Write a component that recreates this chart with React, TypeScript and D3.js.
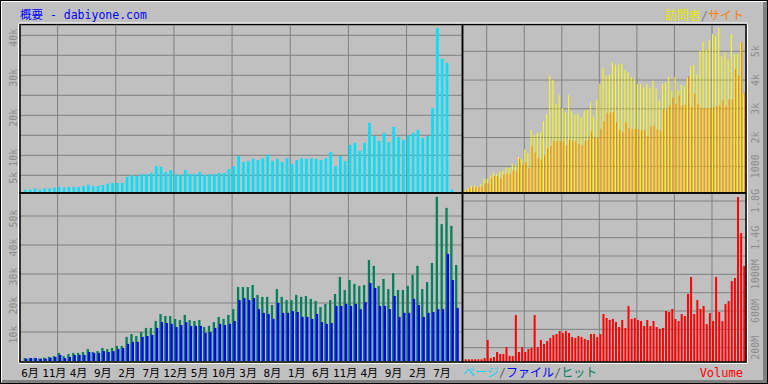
import React from "react";
import * as d3 from "d3";

// ---- data (month index 0 = 5月 ... 89 = 10月) ----
const xTickLabels = ["6月","11月","4月","9月","2月","7月","12月","5月","10月","3月","8月","1月","6月","11月","4月","9月","2月","7月"];
const xTickIndex = [1,6,11,16,21,26,31,36,41,46,51,56,61,66,71,76,81,86];

const pages = [1400,1400,1700,1400,1700,1700,1900,2100,1900,2100,
2100,2100,2300,2600,2300,2300,2600,2900,3100,3100,
3100,4600,5000,4800,5300,5300,5600,7300,7100,5800,
6300,5300,5100,6300,5300,5300,5800,5100,5300,5300,
5600,5600,6600,7300,9800,8300,8600,9100,8800,9300,
10100,8600,9100,8300,9300,7800,8800,9300,9100,9300,
9100,8800,9300,10800,7300,9800,8600,12600,13100,11100,
13100,18100,14800,13600,15600,13300,17100,14600,13800,15000,
15600,16300,14300,14800,21800,41800,34100,33100,1400,0];

const hits = [1000,1000,1000,800,1150,1400,1700,2800,1700,2400,
2800,2800,3100,4100,3100,3400,4500,4100,4500,5200,
5200,8300,9300,8600,10000,11400,11400,13800,16200,15500,
15500,14500,14100,15900,14100,13800,14100,11700,12100,13400,
15200,14500,15900,17900,25500,25500,25500,26200,22800,22100,
22100,19300,24800,22100,21000,21000,22800,22100,22400,21400,
20700,18600,19700,21000,23100,29000,24500,27900,26600,25900,
26200,34800,32800,25900,28300,24800,30300,24500,24500,25900,
29700,32800,24800,27200,33800,56600,47200,52800,46600,33100];

const files = [800,1000,1000,800,800,1150,1400,2100,1000,1400,
2100,2100,2100,3100,2800,2800,3400,3100,3400,4100,
4500,5900,6600,6600,8300,8600,9000,11400,13400,13100,
12800,11700,12400,13400,12100,12100,12100,9700,10000,11400,
12800,12400,12800,13800,21000,21700,21000,21700,17900,16600,
16200,14500,20000,16600,16600,17200,16900,15200,15200,14500,
16200,13400,12800,13100,19000,19000,19700,19000,19700,17900,
20300,26900,25200,19000,19000,17900,22400,15200,16600,16600,
21400,19300,15200,16600,16900,17900,17900,36900,27900,18300];

const visitors = [186,243,336,313,290,383,568,568,661,777,
742,800,858,962,939,1078,1032,1322,1241,1577,
1461,2261,2075,2157,2191,2574,2817,4151,4000,3165,
3478,3026,2864,3478,2910,2794,2829,2701,2933,2968,
3235,2725,3304,3872,4417,4162,4185,4626,4533,4533,
4556,4348,4278,4104,4046,3861,3872,3745,3861,3733,
3977,3699,3281,3872,3930,4104,3617,4104,3652,3838,
3791,4069,4487,4533,4209,5020,5345,5067,5380,5600,
5530,5809,4823,4951,4719,5600,4904,4904,5300,3500];

const sites = [162,220,278,267,267,301,417,406,568,661,
661,591,707,742,730,870,846,1264,1055,1148,
939,1704,1472,1287,1241,1380,1635,1704,1890,1867,
1890,1843,1727,1913,1890,1867,1785,1727,1890,1936,
2214,1983,2006,2307,2562,2864,2864,2887,2539,2272,
2191,2539,2330,2284,2307,2284,2249,2249,2041,2388,
2423,2284,2238,2980,2968,3119,3397,3165,3467,3119,
3142,4139,3061,3525,3154,3026,3026,3026,3003,3061,
3096,3119,3293,3096,3328,3328,4394,4162,5322,3583];

// volume in MB
const volume = [73,73,73,73,73,73,87,284,87,98,
153,131,131,207,109,109,556,153,207,153,
185,196,556,207,284,240,273,305,338,349,
382,360,382,360,316,305,327,316,295,284,
349,349,316,349,567,524,502,513,480,425,
502,415,655,513,524,502,491,436,502,436,
491,425,404,415,600,589,622,513,491,567,
545,785,971,567,720,622,655,458,578,491,
971,589,491,676,709,927,960,1843,1451,1091];

const pagesTicks = [5000,10000,20000,30000,40000];
const pagesTickLabels = ["5k","10k","20k","30k","40k"];
const hitsTicks = [10000,20000,30000,40000,50000];
const hitsTickLabels = ["10k","20k","30k","40k","50k"];
const visTicks = [1000,2000,3000,4000,5000];
const visTickLabels = ["1000","2k","3k","4k","5k"];
const volTicks = [200,600,1000,1400,1800];
const volTickLabels = ["200M","600M","1000M","1.4G","1.8G"];

const W = 768;
const H = 384;

const C = {
  bg: "#c0c0c0",
  grid: "#808080",
  pages: "#00e0ff",
  files: "#0000ff",
  hits: "#00805a",
  visitors: "#ffff00",
  sites: "#ff8000",
  volume: "#ff0000",
  tick: "#8c8c8c",
};

const FONT = "'DejaVu Sans Mono', 'Noto Sans CJK JP', monospace";

export default function App() {
  const N = volume.length;
  const idx = d3.range(N);
  const PL = 20, PM = 462.5, PR = 746, PT = 24.5, PMY = 193, PB = 362;

  const xL = d3.scaleLinear().domain([0, N]).range([23.67, 23.67 + N * 4.847]);
  const xR = d3.scaleLinear().domain([0, N]).range([464.8, 464.8 + N * 3.129]);

  const yPages = d3.scaleLinear().domain([0, 40000]).range([195.3, 35.3]);
  const yHits = d3.scaleLinear().domain([0, 50000]).range([361, 216]);
  const yVis = d3.scaleLinear().domain([0, 5000]).range([195.05, 51.3]);
  const yVol = d3.scaleLinear().domain([0, 1800]).range([366, 201]);

  const vGridIdx = d3.range(7, N, 12);

  const panels = [
    { id: "tl", x: PL, y: PT, w: PM - PL, h: PMY - PT },
    { id: "tr", x: PM, y: PT, w: PR - PM, h: PMY - PT },
    { id: "bl", x: PL, y: PMY, w: PM - PL, h: PB - PMY },
    { id: "br", x: PM, y: PMY, w: PR - PM, h: PB - PMY },
  ];

  const bar = (x: number, w: number, y: any, v: number, fill: string, key: string) => (
    <rect key={key} x={x} width={w} y={y(v)} height={Math.max(0, y(0) - y(v))} fill={fill} />
  );

  const hGrid = (ticks: number[], y: any, x0: number, x1: number, k: string) =>
    ticks.map((t) => <line key={k + t} x1={x0} x2={x1} y1={y(t)} y2={y(t)} stroke={C.grid} strokeWidth={1} />);

  const vGrid = (x: any, y0: number, y1: number, k: string) =>
    vGridIdx.map((i) => <line key={k + i} x1={x(i)} x2={x(i)} y1={y0} y2={y1} stroke={C.grid} strokeWidth={1} />);

  const yLabel = (x: number, y: number, t: string, key: string) => (
    <text key={key} transform={`translate(${x},${y}) rotate(-90)`} textAnchor="middle" dominantBaseline="central"
      fontSize={10} fill={C.tick} fontFamily={FONT}>{t}</text>
  );

  return (
    <svg width={W} height={H} style={{ position: "absolute", left: 0, top: 0 }} xmlns="http://www.w3.org/2000/svg">
      <defs>
        {panels.map((p) => (
          <clipPath id={"clip-" + p.id} key={p.id}>
            <rect x={p.x} y={p.y} width={p.w} height={p.h} />
          </clipPath>
        ))}
      </defs>
      <rect x={0} y={0} width={W} height={H} fill={C.bg} />
      <line x1={0} x2={W} y1={0.5} y2={0.5} stroke="#000" />
      <line x1={0.5} x2={0.5} y1={0} y2={H} stroke="#000" />
      <line x1={1} x2={W - 2} y1={1.5} y2={1.5} stroke="#fff" />
      <line x1={1.5} x2={1.5} y1={1} y2={H - 2} stroke="#fff" />
      <rect x={W - 5} y={2} width={4} height={H - 3} fill="#808080" />
      <rect x={2} y={H - 4} width={W - 3} height={3} fill="#808080" />
      <line x1={0} x2={W} y1={H - 0.5} y2={H - 0.5} stroke="#000" />
      <line x1={W - 0.5} x2={W - 0.5} y1={0} y2={H} stroke="#000" />

      <text x={20} y={19} fontSize={11.5} fill="#0000ff" fontFamily={FONT}>概要 - dabiyone.com</text>
      <text x={744} y={20} textAnchor="end" fontSize={12} fontFamily={FONT}>
        <tspan fill="#e8e800">訪問者</tspan><tspan fill="#808080">/</tspan><tspan fill="#ff8000">サイト</tspan>
      </text>

      <g>
        {hGrid(d3.range(5000, 40001, 5000), yPages, PL, PM, "gtl")}
        {vGrid(xL, PT, PMY, "vtl")}
        {hGrid(d3.range(10000, 50001, 10000), yHits, PL, PM, "gbl")}
        {vGrid(xL, PMY, PB, "vbl")}
        {hGrid(d3.range(1000, 5001, 1000), yVis, PM, PR, "gtr")}
        {vGrid(xR, PT, PMY, "vtr")}
        {hGrid(d3.range(200, 1801, 200), yVol, PM, PR, "gbr")}
        {vGrid(xR, PMY, PB, "vbr")}
      </g>

      <g clipPath="url(#clip-tl)">
        {idx.map((i) => bar(xL(i) + 0.3, 2.7, yPages, pages[i], C.pages, "p" + i))}
      </g>
      <g clipPath="url(#clip-bl)">
        {idx.map((i) => bar(xL(i), 2.3, yHits, hits[i], C.hits, "h" + i))}
        {idx.map((i) => bar(xL(i) + 1.4, 2.3, yHits, files[i], C.files, "f" + i))}
      </g>
      <g clipPath="url(#clip-tr)">
        {idx.map((i) => bar(xR(i), 1, yVis, visitors[i], C.visitors, "v" + i))}
        {idx.map((i) => bar(xR(i) + 1, 1, yVis, sites[i], C.sites, "s" + i))}
      </g>
      <g clipPath="url(#clip-br)">
        {idx.map((i) => bar(xR(i), 2, yVol, volume[i], C.volume, "vol" + i))}
      </g>

      {panels.map((p) => (
        <rect key={"f" + p.id} x={p.x} y={p.y} width={p.w} height={p.h} fill="none" stroke="#000" strokeWidth={1.5} />
      ))}
      <line x1={PL - 1} x2={PR + 1} y1={PT - 1.5} y2={PT - 1.5} stroke="#fff" />
      <line x1={PR + 1.5} x2={PR + 1.5} y1={PT - 1} y2={PB + 1} stroke="#fff" />
      <line x1={PL - 1} x2={PR + 1} y1={PB + 1.5} y2={PB + 1.5} stroke="#fff" />
      <line x1={PL - 1.5} x2={PL - 1.5} y1={PT - 1} y2={PB + 1} stroke="#fff" />

      {pagesTicks.map((t, i) => yLabel(13.5, yPages(t) + 2.5, pagesTickLabels[i], "lp" + i))}
      {hitsTicks.map((t, i) => yLabel(13.5, yHits(t) + 2.5, hitsTickLabels[i], "lh" + i))}
      {visTicks.map((t, i) => yLabel(755, yVis(t), visTickLabels[i], "lv" + i))}
      {volTicks.map((t, i) => yLabel(755, yVol(t), volTickLabels[i], "lvol" + i))}

      {xTickIndex.map((k, i) => (
        <text key={"x" + i} x={xL(k) + 1.5} y={377} textAnchor="middle" fontSize={11} fill="#000" fontFamily={FONT}>
          {xTickLabels[i]}
        </text>
      ))}

      <text x={463} y={377} fontSize={12} fontFamily={FONT}>
        <tspan fill="#00d8f8">ページ</tspan><tspan fill="#606060">/</tspan><tspan fill="#0000ff">ファイル</tspan><tspan fill="#606060">/</tspan><tspan fill="#008060">ヒット</tspan>
      </text>
      <text x={743} y={377} textAnchor="end" fontSize={12} fill="#ff0000" fontFamily={FONT}>Volume</text>
    </svg>
  );
}
